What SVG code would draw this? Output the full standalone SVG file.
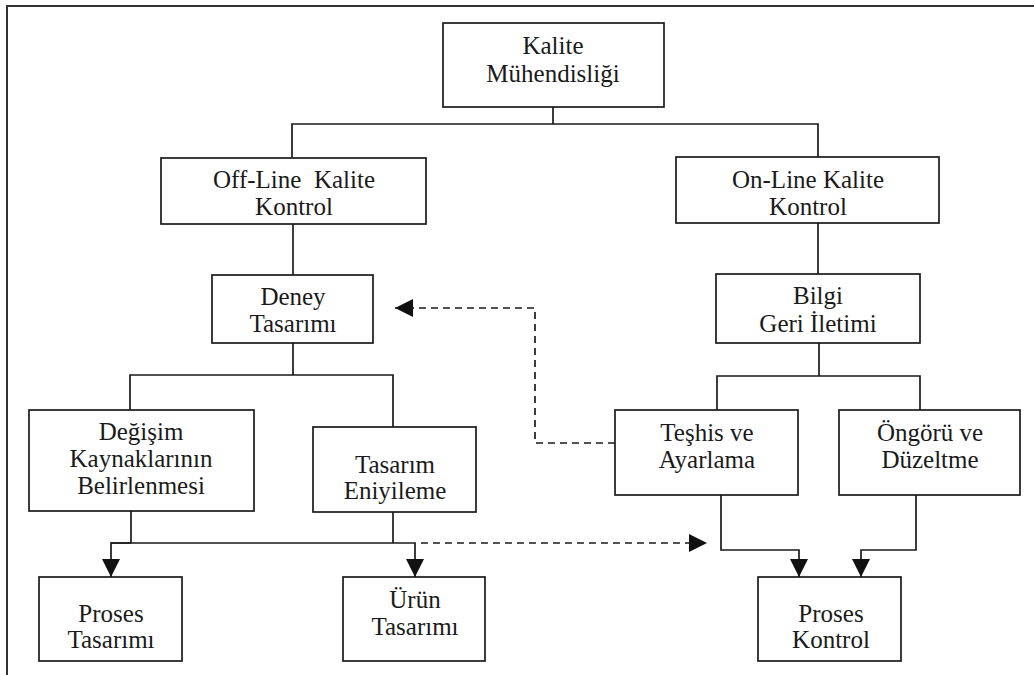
<svg xmlns="http://www.w3.org/2000/svg" width="1034" height="675" viewBox="0 0 1034 675">
  <style>
    .box { fill: #fff; stroke: #1a1a1a; stroke-width: 1.7; }
    .wire { fill: none; stroke: #1a1a1a; stroke-width: 1.7; }
    .dash { fill: none; stroke: #1a1a1a; stroke-width: 1.7; stroke-dasharray: 7 5; }
    .frame { fill: none; stroke: #333; stroke-width: 2; }
  </style>
  <defs>
    <marker id="arrow" viewBox="0 0 18 18" refX="18" refY="9" markerWidth="18" markerHeight="18" markerUnits="userSpaceOnUse" orient="auto">
      <path d="M0,0 L18,9 L0,18 Z" fill="#111"/>
    </marker>
  </defs>

  <rect width="1034" height="675" fill="#fff"/>
  <!-- page frame (top and left edges) -->
  <path class="frame" d="M7,675 V6 H1034"/>

  <g id="connectors">
    <!-- root to both branches -->
    <path class="wire" d="M553,107 V124 M292,158 V124 H818 V157"/>
    <path class="wire" d="M293,224 V275"/>
    <path class="wire" d="M818,223 V274"/>
    <!-- Deney Tasarımı split -->
    <path class="wire" d="M293,343 V375 M130,410 V375 H393 V427"/>
    <!-- Bilgi Geri İletimi split -->
    <path class="wire" d="M819,343 V376 M717,410 V376 H920 V410"/>
    <!-- off-line outputs -->
    <path class="wire" d="M131,511 V543 M393,512 V543"/>
    <path class="wire" d="M131,543 H111 V577" marker-end="url(#arrow)"/>
    <path class="wire" d="M111,543 H415 V577" marker-end="url(#arrow)"/>
    <path class="dash" d="M421,543 H707" marker-end="url(#arrow)"/>
    <!-- on-line outputs -->
    <path class="wire" d="M721,495 V550 H799 V577" marker-end="url(#arrow)"/>
    <path class="wire" d="M916,495 V550 H861 V577" marker-end="url(#arrow)"/>
    <!-- feedback to experiment design -->
    <path class="dash" d="M615,443 H535 V308 H395" marker-end="url(#arrow)"/>
  </g>

  <g id="kalite-muhendisligi">
    <rect class="box" x="443" y="23" width="221" height="84"/>
    <text font-family="Liberation Serif" font-size="25" fill="#1a1a1a" text-anchor="middle" x="553" y="54">Kalite</text>
    <text font-family="Liberation Serif" font-size="25" fill="#1a1a1a" text-anchor="middle" x="553" y="82">Mühendisliği</text>
  </g>
  <g id="off-line">
    <rect class="box" x="161" y="158" width="265" height="66"/>
    <text font-family="Liberation Serif" font-size="25" fill="#1a1a1a" text-anchor="middle" x="294" y="188" xml:space="preserve">Off-Line  Kalite</text>
    <text font-family="Liberation Serif" font-size="25" fill="#1a1a1a" text-anchor="middle" x="294" y="215">Kontrol</text>
  </g>
  <g id="on-line">
    <rect class="box" x="676" y="157" width="263" height="66"/>
    <text font-family="Liberation Serif" font-size="25" fill="#1a1a1a" text-anchor="middle" x="808" y="188">On-Line Kalite</text>
    <text font-family="Liberation Serif" font-size="25" fill="#1a1a1a" text-anchor="middle" x="808" y="215">Kontrol</text>
  </g>
  <g id="deney-tasarimi">
    <rect class="box" x="212" y="275" width="161" height="68"/>
    <text font-family="Liberation Serif" font-size="25" fill="#1a1a1a" text-anchor="middle" x="293" y="305">Deney</text>
    <text font-family="Liberation Serif" font-size="25" fill="#1a1a1a" text-anchor="middle" x="293" y="332">Tasarımı</text>
  </g>
  <g id="bilgi-geri-iletimi">
    <rect class="box" x="716" y="274" width="204" height="69"/>
    <text font-family="Liberation Serif" font-size="25" fill="#1a1a1a" text-anchor="middle" x="818" y="304">Bilgi</text>
    <text font-family="Liberation Serif" font-size="25" fill="#1a1a1a" text-anchor="middle" x="818" y="332">Geri İletimi</text>
  </g>
  <g id="degisim-kaynaklari">
    <rect class="box" x="29" y="410" width="225" height="101"/>
    <text font-family="Liberation Serif" font-size="25" fill="#1a1a1a" text-anchor="middle" x="141" y="440">Değişim</text>
    <text font-family="Liberation Serif" font-size="25" fill="#1a1a1a" text-anchor="middle" x="141" y="467">Kaynaklarının</text>
    <text font-family="Liberation Serif" font-size="25" fill="#1a1a1a" text-anchor="middle" x="141" y="494">Belirlenmesi</text>
  </g>
  <g id="tasarim-eniyileme">
    <rect class="box" x="313" y="427" width="163" height="85"/>
    <text font-family="Liberation Serif" font-size="25" fill="#1a1a1a" text-anchor="middle" x="395" y="473">Tasarım</text>
    <text font-family="Liberation Serif" font-size="25" fill="#1a1a1a" text-anchor="middle" x="395" y="499">Eniyileme</text>
  </g>
  <g id="teshis-ayarlama">
    <rect class="box" x="615" y="410" width="183" height="85"/>
    <text font-family="Liberation Serif" font-size="25" fill="#1a1a1a" text-anchor="middle" x="707" y="441">Teşhis ve</text>
    <text font-family="Liberation Serif" font-size="25" fill="#1a1a1a" text-anchor="middle" x="707" y="468">Ayarlama</text>
  </g>
  <g id="ongoru-duzeltme">
    <rect class="box" x="839" y="410" width="181" height="85"/>
    <text font-family="Liberation Serif" font-size="25" fill="#1a1a1a" text-anchor="middle" x="930" y="441">Öngörü ve</text>
    <text font-family="Liberation Serif" font-size="25" fill="#1a1a1a" text-anchor="middle" x="930" y="468">Düzeltme</text>
  </g>
  <g id="proses-tasarimi">
    <rect class="box" x="39" y="577" width="143" height="84"/>
    <text font-family="Liberation Serif" font-size="25" fill="#1a1a1a" text-anchor="middle" x="111" y="622">Proses</text>
    <text font-family="Liberation Serif" font-size="25" fill="#1a1a1a" text-anchor="middle" x="111" y="648">Tasarımı</text>
  </g>
  <g id="urun-tasarimi">
    <rect class="box" x="343" y="577" width="142" height="84"/>
    <text font-family="Liberation Serif" font-size="25" fill="#1a1a1a" text-anchor="middle" x="415" y="608">Ürün</text>
    <text font-family="Liberation Serif" font-size="25" fill="#1a1a1a" text-anchor="middle" x="415" y="635">Tasarımı</text>
  </g>
  <g id="proses-kontrol">
    <rect class="box" x="758" y="577" width="143" height="84"/>
    <text font-family="Liberation Serif" font-size="25" fill="#1a1a1a" text-anchor="middle" x="831" y="622">Proses</text>
    <text font-family="Liberation Serif" font-size="25" fill="#1a1a1a" text-anchor="middle" x="831" y="648">Kontrol</text>
  </g>
</svg>
